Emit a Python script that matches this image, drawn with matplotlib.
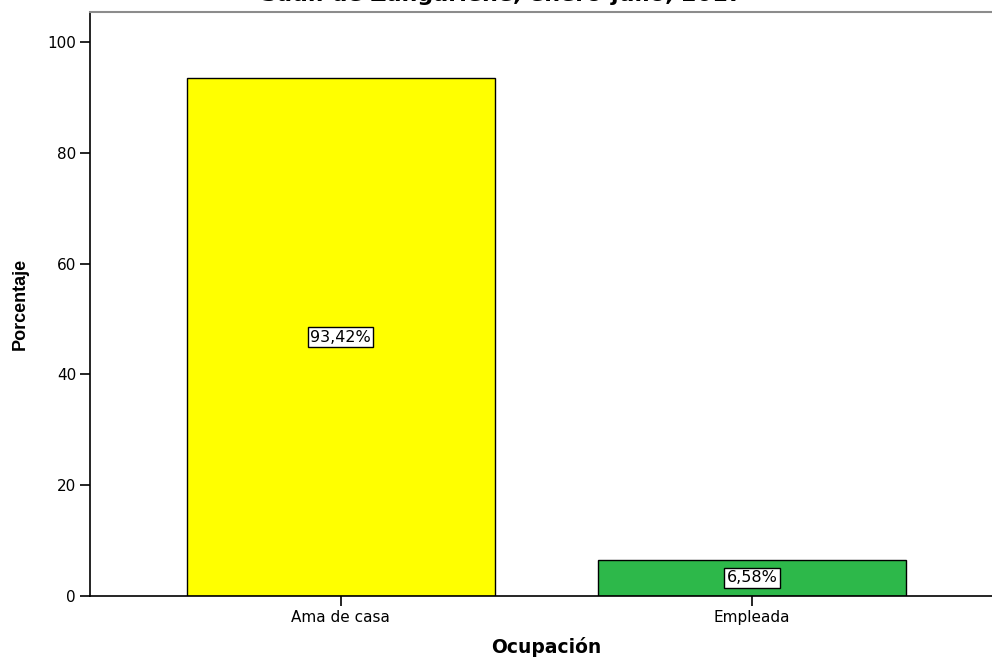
import matplotlib
matplotlib.use("Agg")
import matplotlib.pyplot as plt

plt.rcParams['font.family'] = ['DejaVu Sans']

categories = ["Ama de casa", "Empleada"]
values = [93.42, 6.58]
labels = ["93,42%", "6,58%"]
colors = ["#ffff00", "#2db84a"]

fig = plt.figure(figsize=(9.92, 6.59), dpi=100)
ax = fig.add_axes([90/992, 63/659, 913/992, 584/659])

x = list(range(len(categories)))
ax.bar(x, values, width=0.75, color=colors, edgecolor="black", linewidth=1)
for xi, v, lab in zip(x, values, labels):
    ax.text(xi, v / 2, lab, ha="center", va="center", fontsize=11.5,
            bbox=dict(boxstyle="square,pad=0.14", fc="white", ec="black", lw=1))

ax.set_xlim(-0.61, 1.61)
ax.set_ylim(0, 105.4)
ax.set_xticks(x)
ax.set_xticklabels(categories)
ax.set_yticks([0, 20, 40, 60, 80, 100])
ax.tick_params(axis="both", labelsize=11, length=7, width=1.2, color="black", pad=3)
ax.spines["right"].set_visible(False)
ax.spines["top"].set_color("#8c8c8c")
ax.spines["top"].set_linewidth(1.5)
ax.spines["left"].set_linewidth(1.2)
ax.spines["bottom"].set_linewidth(1.2)

ax.set_ylabel("Porcentaje", fontsize=13, fontweight="bold", labelpad=13,
              family="Liberation Sans")
ax.set_xlabel("Ocupación", fontsize=13.5, fontweight="bold", labelpad=9)

# title sits mostly above the canvas, as in the reference
fig.text(0.506, 1 - 1/659, "Saúl. de Zangariene, enero-julio, 2017", ha="center",
         va="baseline", fontsize=16, fontweight="bold")

fig.savefig("out.png", dpi=100)
